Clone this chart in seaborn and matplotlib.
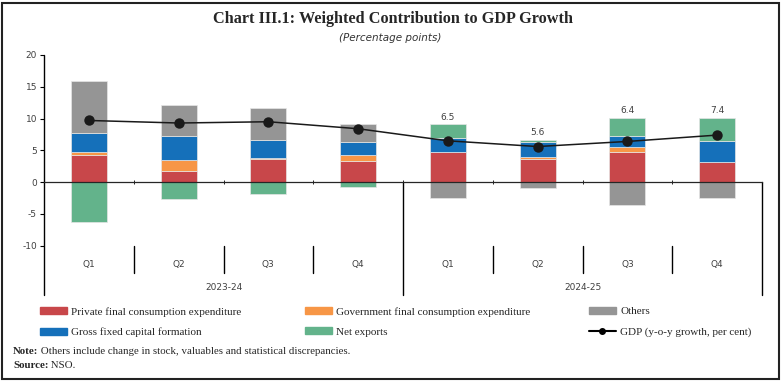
import numpy as np
import pandas as pd
import seaborn as sns
import matplotlib.pyplot as plt
from matplotlib.patches import Patch, Rectangle
from matplotlib.lines import Line2D

# data (percentage points)
quarters = ['Q1', 'Q2', 'Q3', 'Q4', 'Q1', 'Q2', 'Q3', 'Q4']
years = ['2023-24', '2024-25']
pfce = [4.3, 1.7, 3.6, 3.4, 4.7, 3.6, 4.8, 3.2]
gfce = [0.5, 1.8, 0.2, 0.8, 0.0, 0.4, 0.8, 0.0]
gfcf = [3.0, 3.8, 2.9, 2.1, 2.3, 2.3, 1.7, 3.2]
net_exports = [-6.2, -2.6, -1.9, -0.7, 2.1, 0.4, 2.8, 3.7]
others = [8.1, 4.8, 4.9, 2.9, -2.5, -1.0, -3.6, -2.5]
gdp = [9.7, 9.3, 9.5, 8.4, 6.5, 5.6, 6.4, 7.4]
gdp_labels = ['', '', '', '', '6.5', '5.6', '6.4', '7.4']

series = [
    ('Private final consumption expenditure', pfce, '#C8474A'),
    ('Government final consumption expenditure', gfce, '#F79646'),
    ('Gross fixed capital formation', gfcf, '#1570BA'),
    ('Net exports', net_exports, '#63B38B'),
    ('Others', others, '#959595'),
]

sns.set_style('white')
plt.rcParams['font.family'] = ['DejaVu Sans']

fig = plt.figure(figsize=(7.81, 3.81), dpi=100)
W, H = 781, 381
ax = fig.add_axes([44 / W, 1 - 245.7 / H, (762 - 44) / W, (245.7 - 55) / H])

x = np.arange(len(quarters))
pos_base = np.zeros(len(x))
neg_base = np.zeros(len(x))
for name, vals, col in series:
    v = np.array(vals)
    bottoms = np.where(v >= 0, pos_base, neg_base)
    ax.bar(x, v, bottom=bottoms, width=0.4, color=col,
           edgecolor='#e6e6e6', linewidth=0.5, zorder=2)
    pos_base = pos_base + np.where(v >= 0, v, 0)
    neg_base = neg_base + np.where(v < 0, v, 0)

df = pd.DataFrame({'x': x, 'gdp': gdp})
sns.lineplot(data=df, x='x', y='gdp', ax=ax, color='#1a1a1a', lw=1.1,
             marker='o', markersize=7.5, markeredgewidth=0, zorder=5)

# labels above the 2024-25 bars
for xi, top, lab in zip(x, pos_base, gdp_labels):
    if lab:
        ax.annotate(lab, (xi, top), xytext=(0, 2), textcoords='offset points',
                    ha='center', va='bottom', fontsize=6.5, color='#404040')

ax.set_xlim(-0.5, 7.5)
ax.set_ylim(-10, 20)
ax.set_yticks([-10, -5, 0, 5, 10, 15, 20])
ax.set_yticklabels(['-10', '-5', '0', '5', '10', '15', '20'])
ax.tick_params(axis='y', length=3, width=0.8, color='black', labelsize=6.5,
               labelcolor='#404040', pad=2, direction='out', left=True)
ax.set_xticks(np.arange(0.5, 7.5, 1))
ax.set_xticklabels([])
ax.tick_params(axis='x', length=3, width=0.6, color='black', direction='inout',
               bottom=True)
ax.spines['bottom'].set_position(('data', 0))
ax.spines['bottom'].set_linewidth(0.9)
ax.spines['top'].set_visible(False)
ax.spines['right'].set_visible(False)
ax.spines['left'].set_visible(False)
ax.set_xlabel('')
ax.set_ylabel('')

# multi-level category axis below the plot
tr = ax.get_xaxis_transform()
zero_ax = 10 / 30
ax.plot([-0.5, -0.5], [1, -0.259], transform=tr, color='black', lw=1, clip_on=False)
ax.plot([3.5, 3.5], [zero_ax, -0.259], transform=tr, color='black', lw=1, clip_on=False)
ax.plot([7.5, 7.5], [zero_ax, -0.259], transform=tr, color='black', lw=1, clip_on=False)
for b in [0.5, 1.5, 2.5, 4.5, 5.5, 6.5]:
    ax.plot([b, b], [0, -0.143], transform=tr, color='black', lw=1, clip_on=False)
for xi, q in zip(x, quarters):
    ax.text(xi, -0.096, q, transform=tr, ha='center', va='center',
            fontsize=6.5, color='#404040')
for xi, yr in zip([1.5, 5.5], years):
    ax.text(xi, -0.217, yr, transform=tr, ha='center', va='center',
            fontsize=6.5, color='#404040')

# titles
fig.text(393 / W, 1 - 19 / H, 'Chart III.1: Weighted Contribution to GDP Growth',
         ha='center', va='center', fontsize=11.7, fontweight='bold',
         family='Liberation Serif')
fig.text(390 / W, 1 - 38 / H, '(Percentage points)', ha='center', va='center',
         fontsize=7.5, style='italic', family='DejaVu Sans', color='#333333')

# legend: three columns placed where the reference has them
gdp_handle = Line2D([], [], color='black', lw=1.5, marker='o', markersize=4,
                    label='GDP (y-o-y growth, per cent)')
columns = [
    (40, [Patch(color=series[0][2], label=series[0][0]),
          Patch(color=series[2][2], label=series[2][0])]),
    (305, [Patch(color=series[1][2], label=series[1][0]),
           Patch(color=series[3][2], label=series[3][0])]),
    (589, [Patch(color=series[4][2], label=series[4][0]), gdp_handle]),
]
for xpix, hs in columns:
    fig.legend(handles=hs, ncol=1, loc='upper left',
               bbox_to_anchor=(xpix / W, 1 - 307 / H), frameon=False,
               prop={'family': 'Liberation Serif', 'size': 8},
               handlelength=2.4, handleheight=0.6, handletextpad=0.4,
               labelspacing=0.95, borderpad=0, borderaxespad=0)

# note and source
t1 = fig.text(13 / W, 1 - 352 / H, 'Note:', fontsize=7.8, fontweight='bold',
              family='Liberation Serif', va='center')
ax.annotate(' Others include change in stock, valuables and statistical discrepancies.',
            xy=(1, 0.5), xycoords=t1, va='center', ha='left', fontsize=7.8,
            family='Liberation Serif', annotation_clip=False)
t2 = fig.text(13 / W, 1 - 365 / H, 'Source:', fontsize=7.8, fontweight='bold',
              family='Liberation Serif', va='center')
ax.annotate(' NSO.', xy=(1, 0.5), xycoords=t2, va='center', ha='left',
            fontsize=7.8, family='Liberation Serif', annotation_clip=False)

# outer frame
fig.patches.append(Rectangle((1.5 / W, 2.5 / H), 777 / W, 376 / H,
                             transform=fig.transFigure, fill=False,
                             edgecolor='#222222', lw=1.5))

fig.savefig('out.png', dpi=100)
